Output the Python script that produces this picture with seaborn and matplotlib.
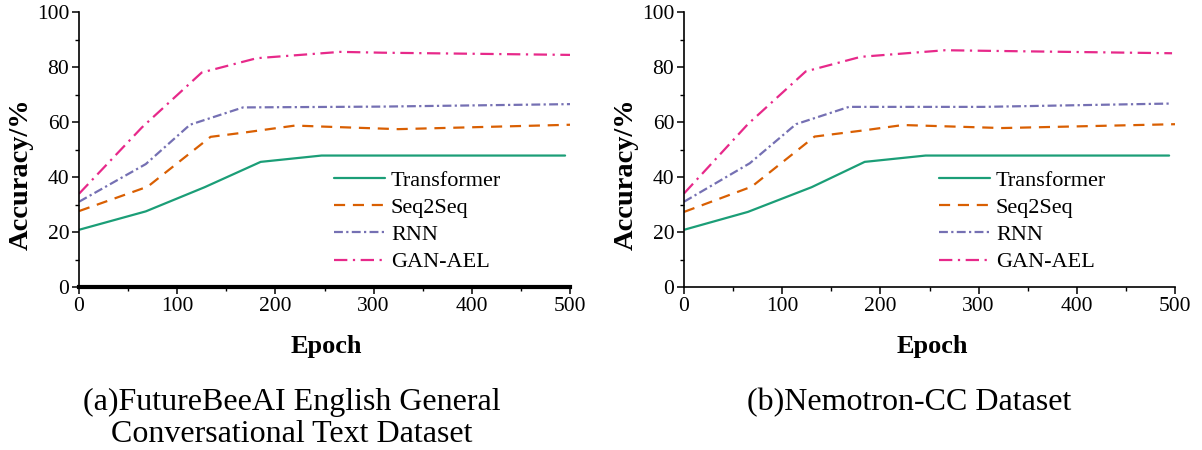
import matplotlib.pyplot as plt
import pandas as pd
import seaborn as sns

sns.set_style("ticks", {"axes.edgecolor": "black", "text.color": "black",
                        "xtick.color": "black", "ytick.color": "black",
                        "axes.labelcolor": "black"})
plt.rcParams["font.family"] = ["Liberation Serif", "DejaVu Serif"]

models = ["Transformer", "Seq2Seq", "RNN", "GAN-AEL"]
colors = ["#1b9e77", "#d95f02", "#7570b3", "#e7298a"]

# panel (a)
a_transformer_x = [0, 68, 128, 185, 247, 495]
a_transformer_y = [20.8, 27.5, 36.3, 45.5, 47.8, 47.8]
a_seq_x = [0, 70, 134, 169, 220, 251, 325, 500]
a_seq_y = [27.6, 36.5, 54.6, 56.2, 58.7, 58.3, 57.4, 59.0]
a_rnn_x = [0, 68, 113, 167, 309, 500]
a_rnn_y = [31.0, 44.7, 59.0, 65.3, 65.6, 66.5]
a_gan_x = [0, 64, 125, 181, 266, 309, 500]
a_gan_y = [33.9, 58.0, 78.0, 83.2, 85.5, 85.2, 84.4]

# panel (b)
b_transformer_x = [0, 65, 130, 184, 246, 494]
b_transformer_y = [20.8, 27.3, 36.3, 45.5, 47.8, 47.8]
b_seq_x = [0, 69, 133, 184, 223, 324, 500]
b_seq_y = [27.3, 36.5, 54.7, 57.0, 58.9, 57.8, 59.2]
b_rnn_x = [0, 67, 114, 168, 305, 494]
b_rnn_y = [31.0, 45.0, 59.2, 65.5, 65.5, 66.7]
b_gan_x = [0, 65, 124, 180, 266, 305, 497]
b_gan_y = [34.0, 59.2, 78.4, 83.7, 86.1, 85.9, 85.0]

captions = ["(a)FutureBeeAI English General\nConversational Text Dataset",
            "(b)Nemotron-CC Dataset"]


def long_form(xs, ys):
    frames = []
    for name, x, y in zip(models, xs, ys):
        frames.append(pd.DataFrame({"epoch": x, "acc": y, "model": name}))
    return pd.concat(frames, ignore_index=True)


df_a = long_form([a_transformer_x, a_seq_x, a_rnn_x, a_gan_x],
                 [a_transformer_y, a_seq_y, a_rnn_y, a_gan_y])
df_b = long_form([b_transformer_x, b_seq_x, b_rnn_x, b_gan_x],
                 [b_transformer_y, b_seq_y, b_rnn_y, b_gan_y])

dashes = {"Transformer": "", "Seq2Seq": (5, 3.5),
          "RNN": (4, 1.5, 1, 1.5), "GAN-AEL": (6, 2.5, 1, 2.5)}

W, H = 1202, 450
fig = plt.figure(figsize=(W / 100, H / 100), dpi=100)
ax_a = fig.add_axes([79 / W, 1 - 287 / H, 491 / W, 275 / H])
ax_b = fig.add_axes([684 / W, 1 - 287 / H, 491 / W, 275 / H])

for ax, df, cap, cx, ylx, exl in [(ax_a, df_a, captions[0], 292, 21, 326),
                                   (ax_b, df_b, captions[1], 909, 626, 932)]:
    sns.lineplot(data=df, x="epoch", y="acc", hue="model", style="model",
                 hue_order=models, style_order=models,
                 palette=colors, dashes=dashes, linewidth=1.6, ax=ax,
                 sort=False, legend=True)
    ax.set_xlim(0, 500)
    ax.set_ylim(0, 100)
    ax.set_xticks(range(0, 501, 100))
    ax.set_xticks(range(0, 501, 50), minor=True)
    ax.set_yticks(range(0, 101, 20))
    ax.set_yticks(range(0, 101, 10), minor=True)
    ax.tick_params(which="major", direction="out", length=5, width=1.1,
                   labelsize=15.5, pad=2)
    ax.tick_params(which="minor", direction="out", length=3, width=1.0)
    ax.set_xlabel("")
    ax.set_ylabel("")
    for s in ["top", "right"]:
        ax.spines[s].set_visible(False)
    for s in ["left", "bottom"]:
        ax.spines[s].set_linewidth(1.2)
    ax.legend(loc="upper left", bbox_to_anchor=(0.52, 0.425),
              frameon=False, fontsize=16, handlelength=2.3,
              handletextpad=0.25, labelspacing=0.3,
              borderpad=0, borderaxespad=0)
    fig.text(ylx / W, 1 - 174 / H, "Accuracy/%", rotation=90,
             ha="center", va="center", fontsize=20.5, fontweight="bold")
    fig.text(exl / W, 1 - 346 / H, "Epoch", ha="center", va="center",
             fontsize=19, fontweight="bold")
    fig.text(cx / W, 1 - 388 / H, cap, ha="center", va="top",
             fontsize=23, linespacing=1.15, multialignment="center")

ax_a.spines["bottom"].set_linewidth(3)

fig.savefig("out.png", dpi=100)
